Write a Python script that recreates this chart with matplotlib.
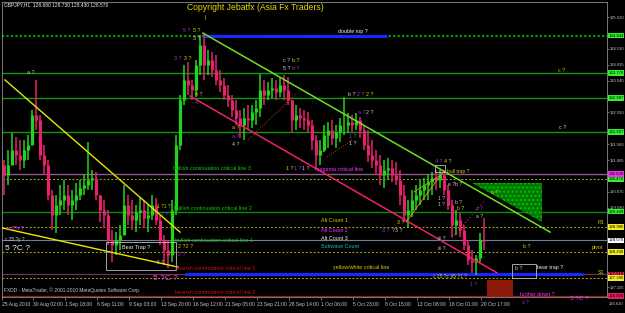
import matplotlib
matplotlib.use("Agg")
import matplotlib.pyplot as plt
import matplotlib.transforms as mtransforms
from matplotlib.patches import Rectangle, Polygon

plt.rcParams["font.family"] = ["Liberation Sans", "DejaVu Sans"]

# GBPJPY H1, grouped into 8-hour slots (x = trading-hour index from 25 Aug 2010)
slot_hours = 8
highs = [131.07, 131.38, 131.91, 131.78, 131.69, 131.69, 131.84, 132.62, 133.56, 132.47,
         131.53, 131.07, 130.13, 129.97, 130.29, 130.44, 130.29, 130.13, 130.35, 130.44,
         130.60, 131.63, 130.75, 130.69, 129.97, 129.82, 129.51, 128.89, 128.82, 129.04,
         130.29, 129.97, 129.82, 129.66, 129.88, 129.82, 129.66, 129.97, 129.88, 129.35,
         128.73, 128.57, 129.82, 131.84, 133.09, 134.03, 134.12, 133.56, 134.18, 134.96,
         135.02, 134.49, 134.43, 134.34, 133.87, 133.62, 133.40, 133.09, 132.93, 132.62,
         132.69, 132.78, 132.78, 132.93, 133.74, 133.56, 133.50, 133.62, 133.56, 133.62,
         133.71, 133.65, 132.93, 132.78, 132.69, 132.62, 132.56, 132.31, 131.84, 131.69,
         132.16, 132.25, 132.31, 132.16, 132.37, 133.03, 132.53, 132.47, 132.53, 132.41,
         132.16, 132.00, 131.69, 131.38, 131.22, 131.07, 131.13, 131.07, 131.00, 130.75,
         130.29, 129.82, 130.13, 130.29, 130.44, 130.50, 130.60, 130.69, 130.75, 130.75,
         130.75, 130.29, 129.82, 129.51, 129.41, 129.04, 128.57, 128.26, 128.11, 128.79,
         129.26]
lows = [129.97, 130.29, 130.91, 130.91, 130.75, 130.82, 131.07, 131.53, 132.00, 131.07,
        130.60, 129.82, 128.89, 128.79, 129.35, 129.51, 129.35, 129.20, 129.51, 129.82,
        129.97, 130.13, 130.13, 129.82, 129.13, 128.95, 128.42, 127.89, 128.11, 128.26,
        128.73, 129.04, 128.89, 128.82, 129.04, 128.95, 128.82, 129.20, 129.04, 128.42,
        127.79, 127.70, 127.89, 129.35, 131.38, 132.78, 133.09, 132.93, 133.03, 133.71,
        133.56, 133.71, 133.65, 133.40, 133.18, 132.93, 132.72, 132.41, 132.16, 131.75,
        131.69, 132.00, 132.06, 132.16, 132.41, 132.78, 132.93, 132.99, 132.93, 133.03,
        132.93, 132.78, 131.91, 132.00, 132.06, 132.00, 131.94, 131.38, 130.82, 130.91,
        131.31, 131.44, 131.53, 131.44, 131.63, 131.84, 131.91, 131.94, 132.00, 131.75,
        131.38, 131.00, 130.82, 130.60, 130.29, 130.19, 130.44, 130.38, 130.29, 129.66,
        129.13, 128.98, 129.29, 129.51, 129.66, 129.82, 129.82, 129.97, 130.13, 130.19,
        129.97, 129.51, 128.67, 128.73, 128.67, 128.26, 127.79, 127.55, 127.48, 127.89,
        128.26]
closes = [130.60, 130.91, 131.38, 131.22, 131.07, 131.38, 131.53, 132.47, 132.31, 131.22,
          130.91, 129.97, 129.35, 129.66, 129.82, 129.97, 129.66, 129.82, 129.97, 130.19,
          130.29, 130.44, 130.50, 129.97, 129.51, 129.35, 128.57, 128.42, 128.57, 128.73,
          129.66, 129.35, 129.20, 129.45, 129.51, 129.26, 129.35, 129.66, 129.20, 128.57,
          128.26, 128.11, 129.51, 131.53, 132.93, 133.56, 133.40, 133.25, 134.03, 134.65,
          134.03, 134.18, 133.87, 133.56, 133.40, 133.09, 132.93, 132.62, 132.37, 132.16,
          132.37, 132.31, 132.56, 132.69, 133.25, 133.09, 133.25, 133.31, 133.18, 133.40,
          133.25, 132.93, 132.31, 132.47, 132.37, 132.31, 132.16, 131.69, 131.22, 131.38,
          131.84, 132.00, 131.75, 131.94, 132.16, 132.16, 132.25, 132.16, 132.31, 132.00,
          131.53, 131.22, 131.07, 130.91, 130.60, 130.75, 130.82, 130.60, 130.44, 129.97,
          129.35, 129.51, 129.82, 129.97, 130.13, 130.29, 130.38, 130.50, 130.44, 130.60,
          130.13, 129.66, 129.04, 129.20, 128.89, 128.42, 127.95, 127.89, 128.01, 128.57,
          128.54]
first_open = 130.90

# x-axis date labels and their bar index
date_labels = ["25 Aug 2010", "30 Aug 02:00", "1 Sep 18:00", "6 Sep 11:00", "9 Sep 03:00",
               "13 Sep 20:00", "16 Sep 12:00", "21 Sep 05:00", "23 Sep 21:00", "28 Sep 14:00",
               "1 Oct 06:00", "5 Oct 23:00", "8 Oct 15:00", "13 Oct 08:00", "18 Oct 01:00",
               "20 Oct 17:00"]
date_bars = [0, 62, 126, 190, 254, 318, 382, 446, 510, 574, 638, 702, 766, 830, 894, 958]

# price scale labels left visible beside the coloured level tags
price_ticks = [135.520, 134.530, 134.035, 133.540, 132.550, 131.560, 131.065, 130.075,
               129.580, 127.105]
bottom_tick = 126.610

# horizontal levels drawn on the chart
level_prices = [134.944, 133.776, 132.997, 131.937, 130.630, 130.470, 129.449, 128.980,
                128.570, 128.200, 127.510, 127.390, 126.830]
level_styles = [
    ("#00a000", (0, (1, 1)), 1.6, "#33ee33"),
    ("#0a9a0a", "-", 1.0, "#33ee33"),
    ("#0a9a0a", "-", 1.0, "#33ee33"),
    ("#0a9a0a", "-", 1.0, "#33ee33"),
    ("#8a5a8a", "-", 1.0, "#ee33ee"),
    ("#b0b000", (0, (2, 2)), 0.7, "#33ee33"),
    ("#0a8a0a", "-", 1.0, "#33ee33"),
    ("#b0b000", (0, (2, 2)), 0.7, "#f0f020"),
    ("#708090", "-", 0.8, "#ffffff"),
    ("#b0b000", (0, (2, 2)), 0.7, "#f0f020"),
    ("#7a3050", "-", 0.8, "#e0205a"),
    ("#b0b000", (0, (2, 2)), 0.7, "#f0f020"),
    ("#a01818", "-", 0.9, "#e0205a"),
]

# partial thick blue levels: (start bar, end bar, price)
blue_levels = [(402, 770, 134.944), (366, 1162, 127.510)]

# trend lines: (bar, price) pairs
trend_lines = [
    [(402, 135.02), (1096, 128.82)],
    [(376, 133.06), (990, 127.55)],
    [(6, 133.56), (356, 128.82)],
    [(0, 128.95), (352, 127.73)],
    [(492, 131.69), (590, 133.15)],
    [(650, 131.16), (700, 131.69)],
    [(808, 129.13), (882, 130.69)],
    [(824, 130.07), (878, 130.60)],
    [(900, 128.64), (966, 129.82)],
]
trend_styles = [
    ("#6ee020", "-", 1.1), ("#f0206a", "-", 1.1), ("#e8e800", "-", 1.0),
    ("#e8e800", "-", 1.0), ("#d03020", (0, (1, 1.5)), 0.7), ("#d03020", (0, (1, 1.5)), 0.7),
    ("#d0a020", "-", 0.6), ("#d0a020", "-", 0.6), ("#d02060", (0, (1, 2)), 0.8),
]

green_zone = [(940, 130.35), (1080, 130.35), (1080, 129.13)]
red_zone = (970, 1022, 126.83, 127.33)
trap_boxes = [(208, 348, 127.64, 128.51), (1020, 1068, 127.39, 127.83), (866, 886, 130.69, 130.91)]

W, H = 625, 313
fig = plt.figure(figsize=(W / 100, H / 100), dpi=100, facecolor="black")
ax = fig.add_axes([2 / W, 16 / H, 605 / W, 295 / H])
ax.set_facecolor("black")
ax.set_xlim(0, 1210)
ax.set_ylim(126.798, 135.988)
for sp in ax.spines.values():
    sp.set_color("#8c8c8c")
    sp.set_linewidth(0.6)

# levels
for price, (col, ls, lw, _) in zip(level_prices, level_styles):
    ax.axhline(price, color=col, linestyle=ls, linewidth=lw, zorder=1)
for x0, x1, price in blue_levels:
    ax.plot([x0, x1], [price, price], color="#1428ff", linewidth=2.2, zorder=2, solid_capstyle="butt")

# candles
opens = [first_open] + closes[:-1]
for i, (h, l, o, c) in enumerate(zip(highs, lows, opens, closes)):
    x = i * slot_hours + slot_hours / 2
    col = "#22d41c" if c >= o else "#e3246c"
    ax.vlines(x, l, h, color=col, linewidth=1.1, zorder=3)
    ax.vlines(x, min(o, c), max(o, c), color=col, linewidth=2.3, zorder=3)

# drawings
for pts, (col, ls, lw) in zip(trend_lines, trend_styles):
    ax.plot([p[0] for p in pts], [p[1] for p in pts], color=col, linestyle=ls, linewidth=lw, zorder=4)
ax.add_patch(Polygon(green_zone, closed=True, facecolor="#007800", edgecolor="#00c000",
                     hatch="....", linewidth=0, zorder=2))
ax.add_patch(Rectangle((red_zone[0], red_zone[2]), red_zone[1] - red_zone[0],
                       red_zone[3] - red_zone[2], facecolor="#8c1a08", edgecolor="none", zorder=2))
for x0, x1, y0, y1 in trap_boxes:
    ax.add_patch(Rectangle((x0, y0), x1 - x0, y1 - y0, fill=False, edgecolor="#bdbdbd",
                           linewidth=0.6, zorder=5))

# axes ticks
ax.yaxis.tick_right()
ax.set_yticks(price_ticks)
ax.set_yticklabels([f"{p:.3f}" for p in price_ticks])
ax.set_xticks(date_bars)
ax.set_xticklabels(date_labels)
ax.tick_params(colors="#9a9a9a", labelcolor="#c8c8c8", labelsize=3.0, length=1.5, width=0.5, pad=0.5)
ax.tick_params(axis="x", pad=1.5, length=2)
for lbl in ax.get_xticklabels():
    lbl.set_horizontalalignment("left")
    lbl.set_fontsize(3.6)

trans = mtransforms.blended_transform_factory(ax.transAxes, ax.transData)
for price, (_, _, _, box) in zip(level_prices, level_styles):
    ax.text(1.0025, price, f"{price:.3f}", transform=trans, fontsize=3.1, color="black",
            va="center", ha="left", zorder=10, clip_on=False,
            bbox=dict(facecolor=box, edgecolor="none", pad=0.4))
fig.text(609 / W, 1 - 304 / H, f"{bottom_tick:.3f}", color="#c8c8c8", fontsize=3.0,
         va="center", ha="left")


def note(x, y, s, color, size=3.9, **kw):
    fig.text(x / W, 1 - y / H, s, color=color, fontsize=size, va="center", ha="left", **kw)


Y, P, G, M, Wh = "#d8cc00", "#a030e0", "#c8c8c8", "#ff30ff", "#f0f0f0"
GR, R, C = "#10c810", "#d01010", "#00c8c8"

note(4, 5, "GBPJPY,H1  128.680 128.730 128.430 128.570", Wh, 3.5)
fig.text(255 / W, 1 - 8 / H, "Copyright Jebatfx (Asia Fx Traders)", color="#e8d800",
         fontsize=6.2, ha="center", va="center")
note(204, 18, "|", "#e8d800", 4)
note(338, 31, "double top ?", Wh)
note(183, 31, "5 ?", P); note(193, 31, "5 ?", Y); note(193, 39, "3 ?", G)
note(174, 58, "3 ?", P); note(184, 58, "3 ?", Y)
note(195, 94, "4 ?", Y); note(195, 103, "4", P)
note(283, 61, "c ?", G); note(292, 61, "b ?", Y)
note(283, 69, "5 ?", G); note(292, 69, "b ?", P)
note(232, 127, "a ?", Y); note(232, 136, "a ?", P); note(232, 144, "4 ?", G)
note(348, 94, "b ?", G); note(357, 94, "2 ?", P); note(366, 94, "2 ?", Y)
note(358, 112, "a ?", P); note(366, 112, "2 ?", G)
note(349, 136, "1 ?", P); note(349, 143, "1 ?", G)
note(558, 70, "c ?", Y); note(559, 127, "c ?", G)
note(27, 73, "a ?", G)
note(173, 169, "bullish continuation critical line 3", GR)
note(286, 169, "1 ?", Y); note(294, 169, "1 ?", P); note(302, 169, "1 ?", G)
note(315, 169, "magenta critical line", M)
note(157, 206, "1 ?1 ?", Y, 3.4); note(161, 215, "1 ?", P, 3.6)
note(174, 208, "bullish continuation critical line 2", GR)
note(175, 240, "bullish continuation critical line 1", GR)
note(178, 246, "2 ?2 ?", Y); note(178, 254, "2 ?", P)
note(122, 248, "Bear Trap ?", Wh)
note(157, 263, "5 ?", G, 3.5)
note(5, 249, "5 ?C ?", Wh, 6)
note(153, 278, "5 ?C ?", M, 6)
note(175, 268, "bearish continuation critical line 1", R)
note(175, 292, "bearish continuation critical line 2", R)
note(321, 221, "Alt Count 1", Y); note(321, 230, "Alt Count 2", M)
note(321, 238, "Alt Count 3", Wh); note(321, 247, "Subwave Count", C)
note(333, 268, "yellow/white critical line", Y)
note(397, 222, "3 ?", Y); note(382, 231, "3 ?", P); note(392, 231, "?3 ?", G)
note(435, 162, "4 ?", P); note(444, 162, "4 ?", Y)
note(447, 171, "bull trap ?", Y, 3.6)
note(448, 185, "e ?b ?", G, 3.6)
note(438, 198, "1 ?", G, 3.6); note(438, 205, "1 ?", G, 3.6)
note(455, 202, "b ?", G, 3.6); note(457, 209, "b ?", Y, 3.6)
note(476, 209, "a ?", P, 3.6); note(476, 217, "a ?", G, 3.6)
note(491, 193, "a ?", Y)
note(438, 238, "iii ?", G, 3.4); note(438, 248, "iii ?", G, 3.4)
note(523, 247, "b ?", Y)
note(598, 223, "R1", Y); note(592, 248, "pivot", Y); note(598, 273, "S1", Y)
note(515, 268, "b ?", G); note(537, 268, "bear trap ?", Wh)
note(520, 294, "further down ?", M)
note(570, 298, "5 ?C ?", M, 4.6)
note(522, 302, "a ?", P, 3.4)
note(433, 277, "c 25 ?c 95 ?1 ?", Y, 3.5); note(470, 285, "1 ?", P, 3.4)
note(5, 240, "c 25 ?y ?", G, 3.4); note(8, 229, "a 2?v ?", M, 3.4)
note(4, 290, "FXDD - MetaTrader, \u00a9 2001-2010 MetaQuotes Software Corp.", G, 3.5)

fig.savefig("out.png", dpi=100, facecolor="black")
